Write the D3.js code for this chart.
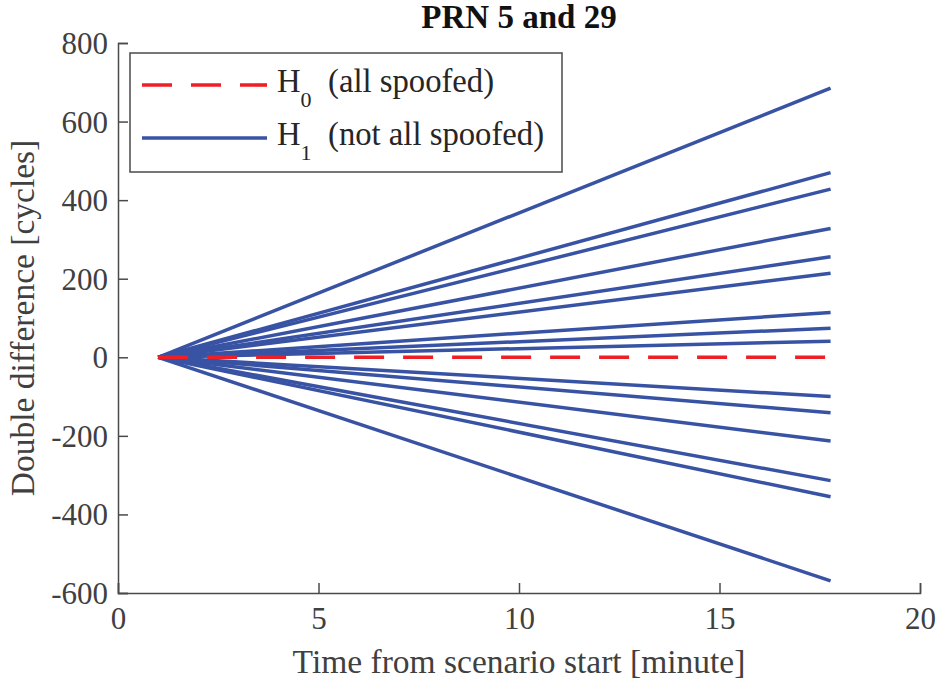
<!DOCTYPE html>
<html>
<head>
<meta charset="utf-8">
<script src="https://cdn.jsdelivr.net/npm/d3@7"></script>
<style>
  body { margin: 0; background: #fff; }
  svg { display: block; }
  svg text { font-family: "Liberation Serif", "Times New Roman", serif; }
</style>
</head>
<body>
<svg id="chart" width="938" height="683"></svg>
<script>
// Time axis of each track (minutes): start and end of the recording
const timeSpan = [1, 17.77];

// Double difference at the end of the run for each H1 track (cycles); all start at 0
const h1EndValues = [685, 470, 428, 328, 256, 214, 114, 74, 41, -100, -141, -213, -314, -355, -569];
const h1StartValue = 0;

// H0 (all spoofed) stays at zero
const h0Values = [0, 0];

const xTicks = [0, 5, 10, 15, 20];
const yTicks = [-600, -400, -200, 0, 200, 400, 600, 800];

const legendItems = [
  { sub: "0", text: "(all spoofed)", color: "#ee1f25", dash: "30,19" },
  { sub: "1", text: "(not all spoofed)", color: "#3953a4", dash: null }
];

const svg = d3.select("#chart");
const margin = { left: 118, right: 18, top: 43, bottom: 90 };
const W = 938, H = 683;
const serif = "'Liberation Serif', 'Times New Roman', serif";

const x = d3.scaleLinear().domain([0, 20]).range([margin.left, W - margin.right]);
const y = d3.scaleLinear().domain([-600, 800]).range([H - margin.bottom, margin.top]);

const axisColor = "#4a4a4a";
const textColor = "#404040";

// H1 tracks
const line = d3.line().x(d => x(d[0])).y(d => y(d[1]));
const h1Tracks = h1EndValues.map(v => [[timeSpan[0], h1StartValue], [timeSpan[1], v]]);

svg.append("g").selectAll("path").data(h1Tracks).join("path")
  .attr("d", line)
  .attr("fill", "none")
  .attr("stroke", "#3953a4")
  .attr("stroke-width", 3.5);

// H0 track
svg.append("path")
  .attr("d", line(timeSpan.map((t, i) => [t, h0Values[i]])))
  .attr("fill", "none")
  .attr("stroke", "#ee1f25")
  .attr("stroke-width", 3.6)
  .attr("stroke-dasharray", "30,19");

// Axes (ticks point inward)
const xAxis = d3.axisBottom(x).tickValues(xTicks).tickSize(-10).tickPadding(14).tickFormat(d3.format("d"));
const yAxis = d3.axisLeft(y).tickValues(yTicks).tickSize(-10).tickPadding(10).tickFormat(d => d);

const gx = svg.append("g").attr("transform", `translate(0,${y(-600)})`).call(xAxis);
const gy = svg.append("g").attr("transform", `translate(${x(0)},0)`).call(yAxis);

[gx, gy].forEach(g => {
  g.attr("font-family", serif).attr("font-size", 31);
  g.select(".domain").attr("stroke", axisColor).attr("stroke-width", 1.5);
  g.selectAll(".tick line").attr("stroke", axisColor).attr("stroke-width", 1.5);
  g.selectAll(".tick text").attr("fill", textColor);
});
gx.selectAll(".tick text").attr("dy", "0.71em");
gy.selectAll(".tick text").attr("dy", "0.34em");

// Title
svg.append("text")
  .attr("x", (x(0) + x(20)) / 2)
  .attr("y", 28)
  .attr("text-anchor", "middle")
  .attr("font-family", serif)
  .attr("font-weight", "bold")
  .attr("font-size", 33)
  .attr("fill", "#111")
  .text("PRN 5 and 29");

// Axis labels
svg.append("text")
  .attr("x", (x(0) + x(20)) / 2)
  .attr("y", 673)
  .attr("text-anchor", "middle")
  .attr("font-family", serif)
  .attr("font-size", 33.5)
  .attr("fill", textColor)
  .text("Time from scenario start [minute]");

svg.append("text")
  .attr("transform", `translate(34,${(y(-600) + y(800)) / 2}) rotate(-90)`)
  .attr("text-anchor", "middle")
  .attr("font-family", serif)
  .attr("font-size", 33.5)
  .attr("fill", textColor)
  .text("Double difference [cycles]");

// Legend
const lg = svg.append("g");
lg.append("rect")
  .attr("x", 130).attr("y", 53)
  .attr("width", 432).attr("height", 119)
  .attr("fill", "#fff")
  .attr("stroke", axisColor)
  .attr("stroke-width", 1.5);

legendItems.forEach((it, i) => {
  const ly = 85 + i * 53;
  lg.append("line")
    .attr("x1", 142).attr("x2", 267)
    .attr("y1", ly).attr("y2", ly)
    .attr("stroke", it.color)
    .attr("stroke-width", i === 0 ? 3.6 : 3.5)
    .attr("stroke-dasharray", it.dash);
  const t = lg.append("text")
    .attr("x", 277).attr("y", ly + 7)
    .attr("font-family", serif)
    .attr("font-size", 32.7)
    .attr("fill", "#262626");
  t.append("tspan").text("H");
  t.append("tspan").attr("dy", 15).attr("font-size", 22).text(it.sub);
  t.append("tspan").attr("x", 328).attr("dy", -15).text(it.text);
});
</script>
</body>
</html>
